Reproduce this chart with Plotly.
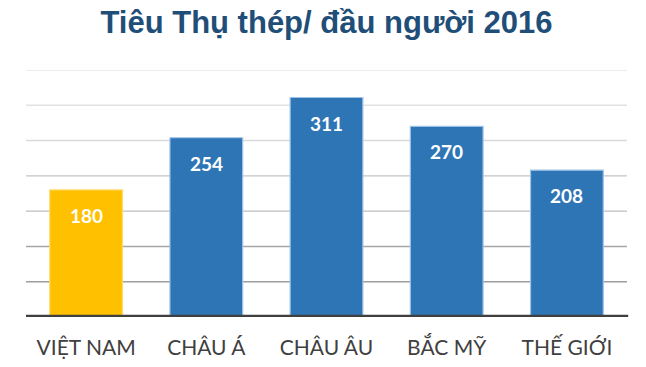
import plotly.graph_objects as go

categories = ["VIỆT NAM", "CHÂU Á", "CHÂU ÂU", "BẮC MỸ", "THẾ GIỚI"]
values = [180, 254, 311, 270, 208]
bar_colors = ["#FFC000", "#2E75B6", "#2E75B6", "#2E75B6", "#2E75B6"]
edge_colors = ["#FFD966", "#9DC3E6", "#9DC3E6", "#9DC3E6", "#9DC3E6"]
grid_values = [50, 100, 150, 200, 250, 300, 350]
grid_colors = ["#9E9E9E", "#A6A6A6", "#BEBEBE", "#C4C4C4", "#DADADA", "#E2E2E2", "#E6E6E6"]
title_text = "Tiêu Thụ thép/ đầu người 2016"

fig = go.Figure()
fig.add_trace(go.Bar(
    x=categories, y=values,
    marker=dict(color=bar_colors, line=dict(color=edge_colors, width=1.2)),
    hoverinfo="skip",
))

shapes = []
for gv, gc in zip(grid_values, grid_colors):
    shapes.append(dict(type="line", xref="paper", yref="y", x0=0, x1=1, y0=gv, y1=gv,
                       line=dict(color=gc, width=1.4), layer="below"))
shapes.append(dict(type="line", xref="paper", yref="y", x0=0, x1=1.002, y0=0, y1=0,
                   line=dict(color="#404040", width=4.5), layer="above"))

annotations = []
for c, v in zip(categories, values):
    annotations.append(dict(x=c, y=v, xref="x", yref="y", text=str(v), showarrow=False,
                            yanchor="top", yshift=-12,
                            font=dict(family="Lato", size=19, color="white", weight="bold")))

fig.update_layout(
    width=646, height=367,
    margin=dict(l=26, r=19, t=70, b=50),
    paper_bgcolor="white", plot_bgcolor="white",
    bargap=0.395,
    showlegend=False,
    shapes=shapes,
    annotations=annotations,
    title=dict(text="<b>" + title_text + "</b>", x=0.5, xref="paper", xanchor="center",
               y=1 - 22.5 / 367, yref="container", yanchor="middle",
               font=dict(family="Liberation Sans", size=31, color="#1F4E79")),
    xaxis=dict(showgrid=False, zeroline=False, showline=False, automargin=False,
               ticks="outside", ticklen=12, tickcolor="rgba(0,0,0,0)",
               tickfont=dict(family="Lato", size=21, color="#404040")),
    yaxis=dict(range=[0, 350], showgrid=False, zeroline=False, showline=False,
               showticklabels=False, ticks="", automargin=False),
)

fig.write_html("out.html")
